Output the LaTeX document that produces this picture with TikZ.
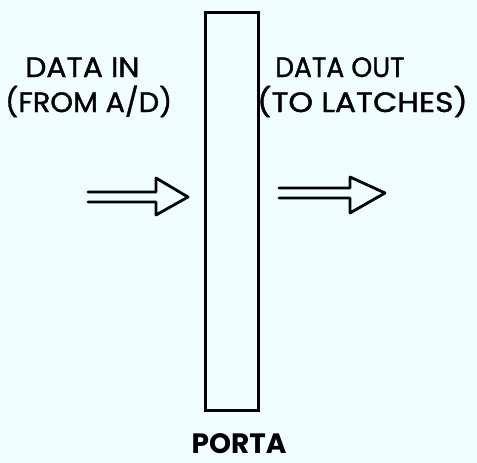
\documentclass[tikz,border=0pt]{standalone}
\usepackage{fontspec}
\setmainfont{Poppins}
\newfontfamily\heavyfont[FakeBold=1.2]{Poppins}
\definecolor{bgc}{HTML}{F0FEFF}
\begin{document}
\begin{tikzpicture}[x=1pt,y=-1pt,
  lbl/.style={inner sep=0pt, anchor=base west, font=\heavyfont\fontsize{28}{30}\selectfont},
  bigarrow/.style={line width=2.8pt, line join=round, line cap=round}]
\useasboundingbox[fill=bgc] (0,0) rectangle (477,463);
\node[draw, line width=3pt, minimum width=53pt, minimum height=398pt, inner sep=0pt] (porta) at (232,211) {};
\node[lbl] (din) at (25,77) {\scalebox{1.07}[1]{DATA IN}};
\node[lbl] (dfrom) at (5,112) {\scalebox{1.03}[1]{(FROM A/D)}};
\node[lbl] (dout) at (275,77) {\scalebox{0.95}[1]{DATA OUT}};
\node[lbl] (dto) at (257,112) {\scalebox{1.12}[1]{(TO LATCHES)}};
\node[lbl, font=\bfseries\fontsize{28}{30}\selectfont, anchor=base, text depth=0pt] (pname) at (239,453) {PORTA};
% left arrow
\coordinate (la) at (88,197);
\coordinate (lt) at (188,197);
\draw[bigarrow] (88,192) -- (156,192) -- (156,178) -- (lt) -- (156,215) -- (156,202) -- (88,202);
% right arrow
\coordinate (ra) at (279,193);
\coordinate (rt) at (385,193);
\draw[bigarrow] (279,188) -- (350,188) -- (350,177) -- (rt) -- (350,213) -- (350,198) -- (279,198);
\end{tikzpicture}
\end{document}
